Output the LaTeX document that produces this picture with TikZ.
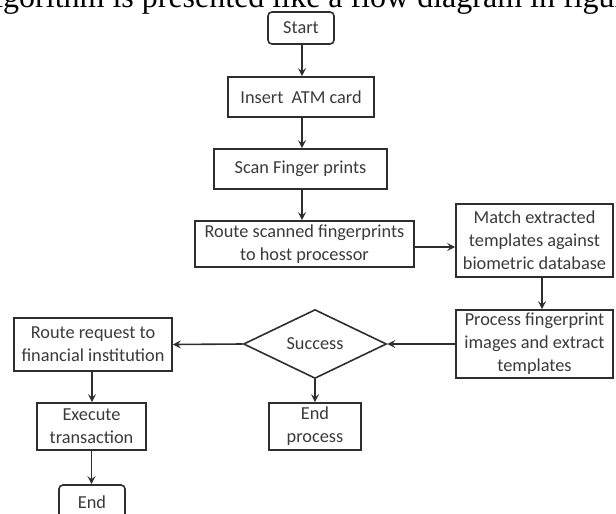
\documentclass[tikz,border=0pt]{standalone}
\usepackage{fontspec}
\setmainfont{Carlito}
\newfontfamily\serifhead{Liberation Serif}
\usetikzlibrary{shapes.geometric,arrows.meta}
\definecolor{linec}{HTML}{2E2E2E}
\definecolor{textc}{HTML}{3A3A3A}
\tikzset{
  box/.style={draw=linec, line width=1.6pt, inner sep=0pt, align=center, text=textc,
    font=\fontsize{18.3}{23}\selectfont},
  rbox/.style={box, rounded corners=4pt},
  dec/.style={box, diamond},
  flow/.style={draw=linec, line width=1.6pt, -{Stealth[length=8pt,width=8pt,inset=3pt]}},
}
\begin{document}
\begin{tikzpicture}[x=1pt,y=-1pt]
\useasboundingbox (0,0) rectangle (616,514);
\clip (0,0) rectangle (616,514);
\node[anchor=base west, inner sep=0pt, font=\serifhead\fontsize{32}{36}\selectfont] (head) at (3,7.5) {\llap{al}gorithm is presented like a flow diagram in figure};
\node[rbox, minimum width=66pt, minimum height=32pt] (start) at (301,28) {Start};
\node[box, minimum width=146pt, minimum height=40pt] (insert) at (301,97) {Insert\ \ ATM card};
\node[box, minimum width=173pt, minimum height=40pt] (scan) at (300.5,169) {Scan Finger prints};
\node[box, minimum width=219pt, minimum height=46pt] (route) at (304.5,244) {Route scanned fingerprints\\to host processor};
\node[box, minimum width=157pt, minimum height=73pt] (match) at (534.5,240.5) {Match extracted\\templates against\\biometric database};
\node[box, minimum width=157pt, minimum height=68pt] (process) at (534.5,344) {Process fingerprint\\images and extract\\templates};
\node[dec, minimum width=143pt, minimum height=48pt] (success) at (315,344) {Success};
\node[box, minimum width=158pt, minimum height=53pt] (routereq) at (93,344.5) {Route request to\\financial institution};
\node[box, minimum width=109pt, minimum height=47pt] (exec) at (91.5,426.5) {Execute\\transaction};
\node[box, minimum width=92pt, minimum height=47pt] (endp) at (315,426.5) {End\\process};
\node[rbox, minimum width=66pt, minimum height=34pt] (endn) at (92,502) {End};
\draw[flow] ([xshift=1pt]start.south) -- ([xshift=1pt]start.south |- insert.north);
\draw[flow] ([xshift=1pt]insert.south) -- ([xshift=1pt]insert.south |- scan.north);
\draw[flow] ([xshift=1.5pt]scan.south) -- ([xshift=1.5pt]scan.south |- route.north);
\draw[flow] ([yshift=-3pt]route.east) -- ([yshift=-3pt]route.east -| match.west);
\draw[flow] ([xshift=7.5pt]match.south) -- ([xshift=7.5pt]match.south |- process.north);
\draw[flow] (process.west) -- (success.east);
\draw[flow] (success.west) -- (routereq.east);
\draw[flow] (success.south) -- (endp.north);
\draw[flow] ([xshift=-1pt]routereq.south) -- ([xshift=-1pt]routereq.south |- exec.north);
\draw[flow] (exec.south) -- (exec.south |- endn.north);
\end{tikzpicture}
\end{document}
